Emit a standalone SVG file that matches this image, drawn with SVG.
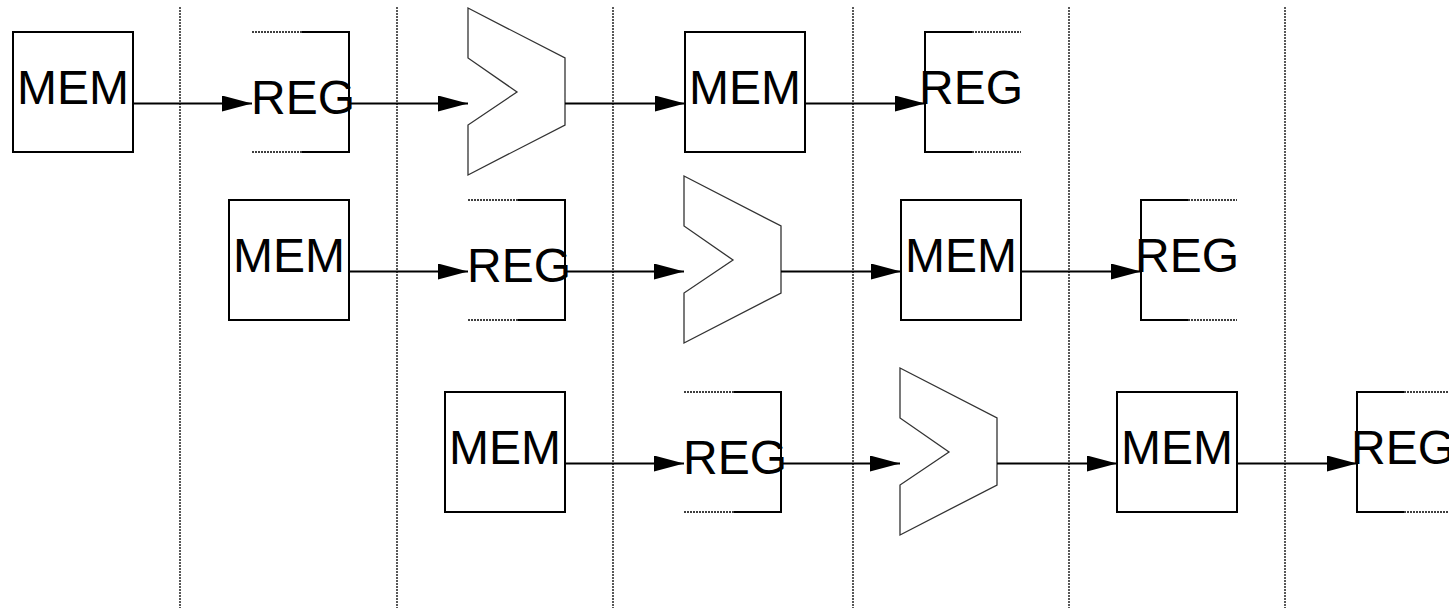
<svg xmlns="http://www.w3.org/2000/svg" width="1449" height="610" viewBox="0 0 1449 610">
  <style>
    .box { fill: none; stroke: #000; stroke-width: 2; }
    .open { fill: none; stroke: #000; stroke-width: 1.5; stroke-dasharray: 2 1; }
    .alu { fill: #fff; stroke: #333; stroke-width: 1.3; stroke-linejoin: miter; }
    .lbl { font-family: "Liberation Sans", Arial, Helvetica, sans-serif; font-size: 48px; fill: #000; }
    .mid { text-anchor: middle; }
    .sep { stroke: #000; stroke-width: 1.3; stroke-dasharray: 2 1; fill: none; }
    .wire { stroke: #000; stroke-width: 1.9; fill: none; marker-end: url(#head); }
  </style>
  <defs>
    <marker id="head" markerUnits="userSpaceOnUse" markerWidth="31" markerHeight="17" refX="30" refY="8" orient="auto">
      <path d="M0,0 L30,8 L0,16 Z" fill="#000"/>
    </marker>
    <!-- memory block: 120 x 120 -->
    <g id="memShape">
      <rect class="box" x="0" y="0" width="120" height="120"/>
      <text class="lbl mid" x="60" y="72">MEM</text>
    </g>
    <!-- register open on the left -->
    <g id="regLeftShape">
      <path class="open" d="M0,0 H50 M0,120 H50"/>
      <path class="box" d="M50,0 H97 V120 H50"/>
      <text class="lbl" x="-1" y="81.5">REG</text>
    </g>
    <!-- register open on the right -->
    <g id="regRightShape">
      <path class="open" d="M47,0 H96 M47,120 H96"/>
      <path class="box" d="M47,0 H0 V120 H47"/>
      <text class="lbl" x="-6" y="72">REG</text>
    </g>
    <!-- comparator / ALU outline -->
    <path id="aluShape" class="alu" d="M0,-24 L97,26 L97,93 L0,143 L0,93 L49,60 L0,26 Z"/>
  </defs>

  <!-- stage separators -->
  <g id="separators">
    <line class="sep" x1="180" y1="7" x2="180" y2="608"/>
    <line class="sep" x1="397" y1="7" x2="397" y2="608"/>
    <line class="sep" x1="613" y1="7" x2="613" y2="608"/>
    <line class="sep" x1="853" y1="7" x2="853" y2="608"/>
    <line class="sep" x1="1069" y1="7" x2="1069" y2="608"/>
    <line class="sep" x1="1285" y1="7" x2="1285" y2="608"/>
  </g>

  <!-- row 1 -->
  <g id="r1-mem-in" transform="translate(13,32)"><use href="#memShape"/></g>
  <g id="r1-reg-a" transform="translate(252,32)"><use href="#regLeftShape"/></g>
  <g id="r1-alu" transform="translate(468,32)"><use href="#aluShape"/></g>
  <g id="r1-mem-out" transform="translate(685,32)"><use href="#memShape"/></g>
  <g id="r1-reg-b" transform="translate(925,32)"><use href="#regRightShape"/></g>

  <!-- row 2 -->
  <g id="r2-mem-in" transform="translate(229,200)"><use href="#memShape"/></g>
  <g id="r2-reg-a" transform="translate(468,200)"><use href="#regLeftShape"/></g>
  <g id="r2-alu" transform="translate(684,200)"><use href="#aluShape"/></g>
  <g id="r2-mem-out" transform="translate(901,200)"><use href="#memShape"/></g>
  <g id="r2-reg-b" transform="translate(1141,200)"><use href="#regRightShape"/></g>

  <!-- row 3 -->
  <g id="r3-mem-in" transform="translate(445,392)"><use href="#memShape"/></g>
  <g id="r3-reg-a" transform="translate(684,392)"><use href="#regLeftShape"/></g>
  <g id="r3-alu" transform="translate(900,392)"><use href="#aluShape"/></g>
  <g id="r3-mem-out" transform="translate(1117,392)"><use href="#memShape"/></g>
  <g id="r3-reg-b" transform="translate(1357,392)"><use href="#regRightShape"/></g>

  <!-- connectors -->
  <g id="connectors">
    <line class="wire" x1="133" y1="103.5" x2="252" y2="103.5"/>
    <line class="wire" x1="349" y1="103.5" x2="468" y2="103.5"/>
    <line class="wire" x1="565" y1="103.5" x2="685" y2="103.5"/>
    <line class="wire" x1="805" y1="103.5" x2="925" y2="103.5"/>

    <line class="wire" x1="349" y1="271.5" x2="468" y2="271.5"/>
    <line class="wire" x1="565" y1="271.5" x2="684" y2="271.5"/>
    <line class="wire" x1="781" y1="271.5" x2="901" y2="271.5"/>
    <line class="wire" x1="1021" y1="271.5" x2="1141" y2="271.5"/>

    <line class="wire" x1="565" y1="463.5" x2="684" y2="463.5"/>
    <line class="wire" x1="781" y1="463.5" x2="900" y2="463.5"/>
    <line class="wire" x1="997" y1="463.5" x2="1117" y2="463.5"/>
    <line class="wire" x1="1237" y1="463.5" x2="1357" y2="463.5"/>
  </g>
</svg>
